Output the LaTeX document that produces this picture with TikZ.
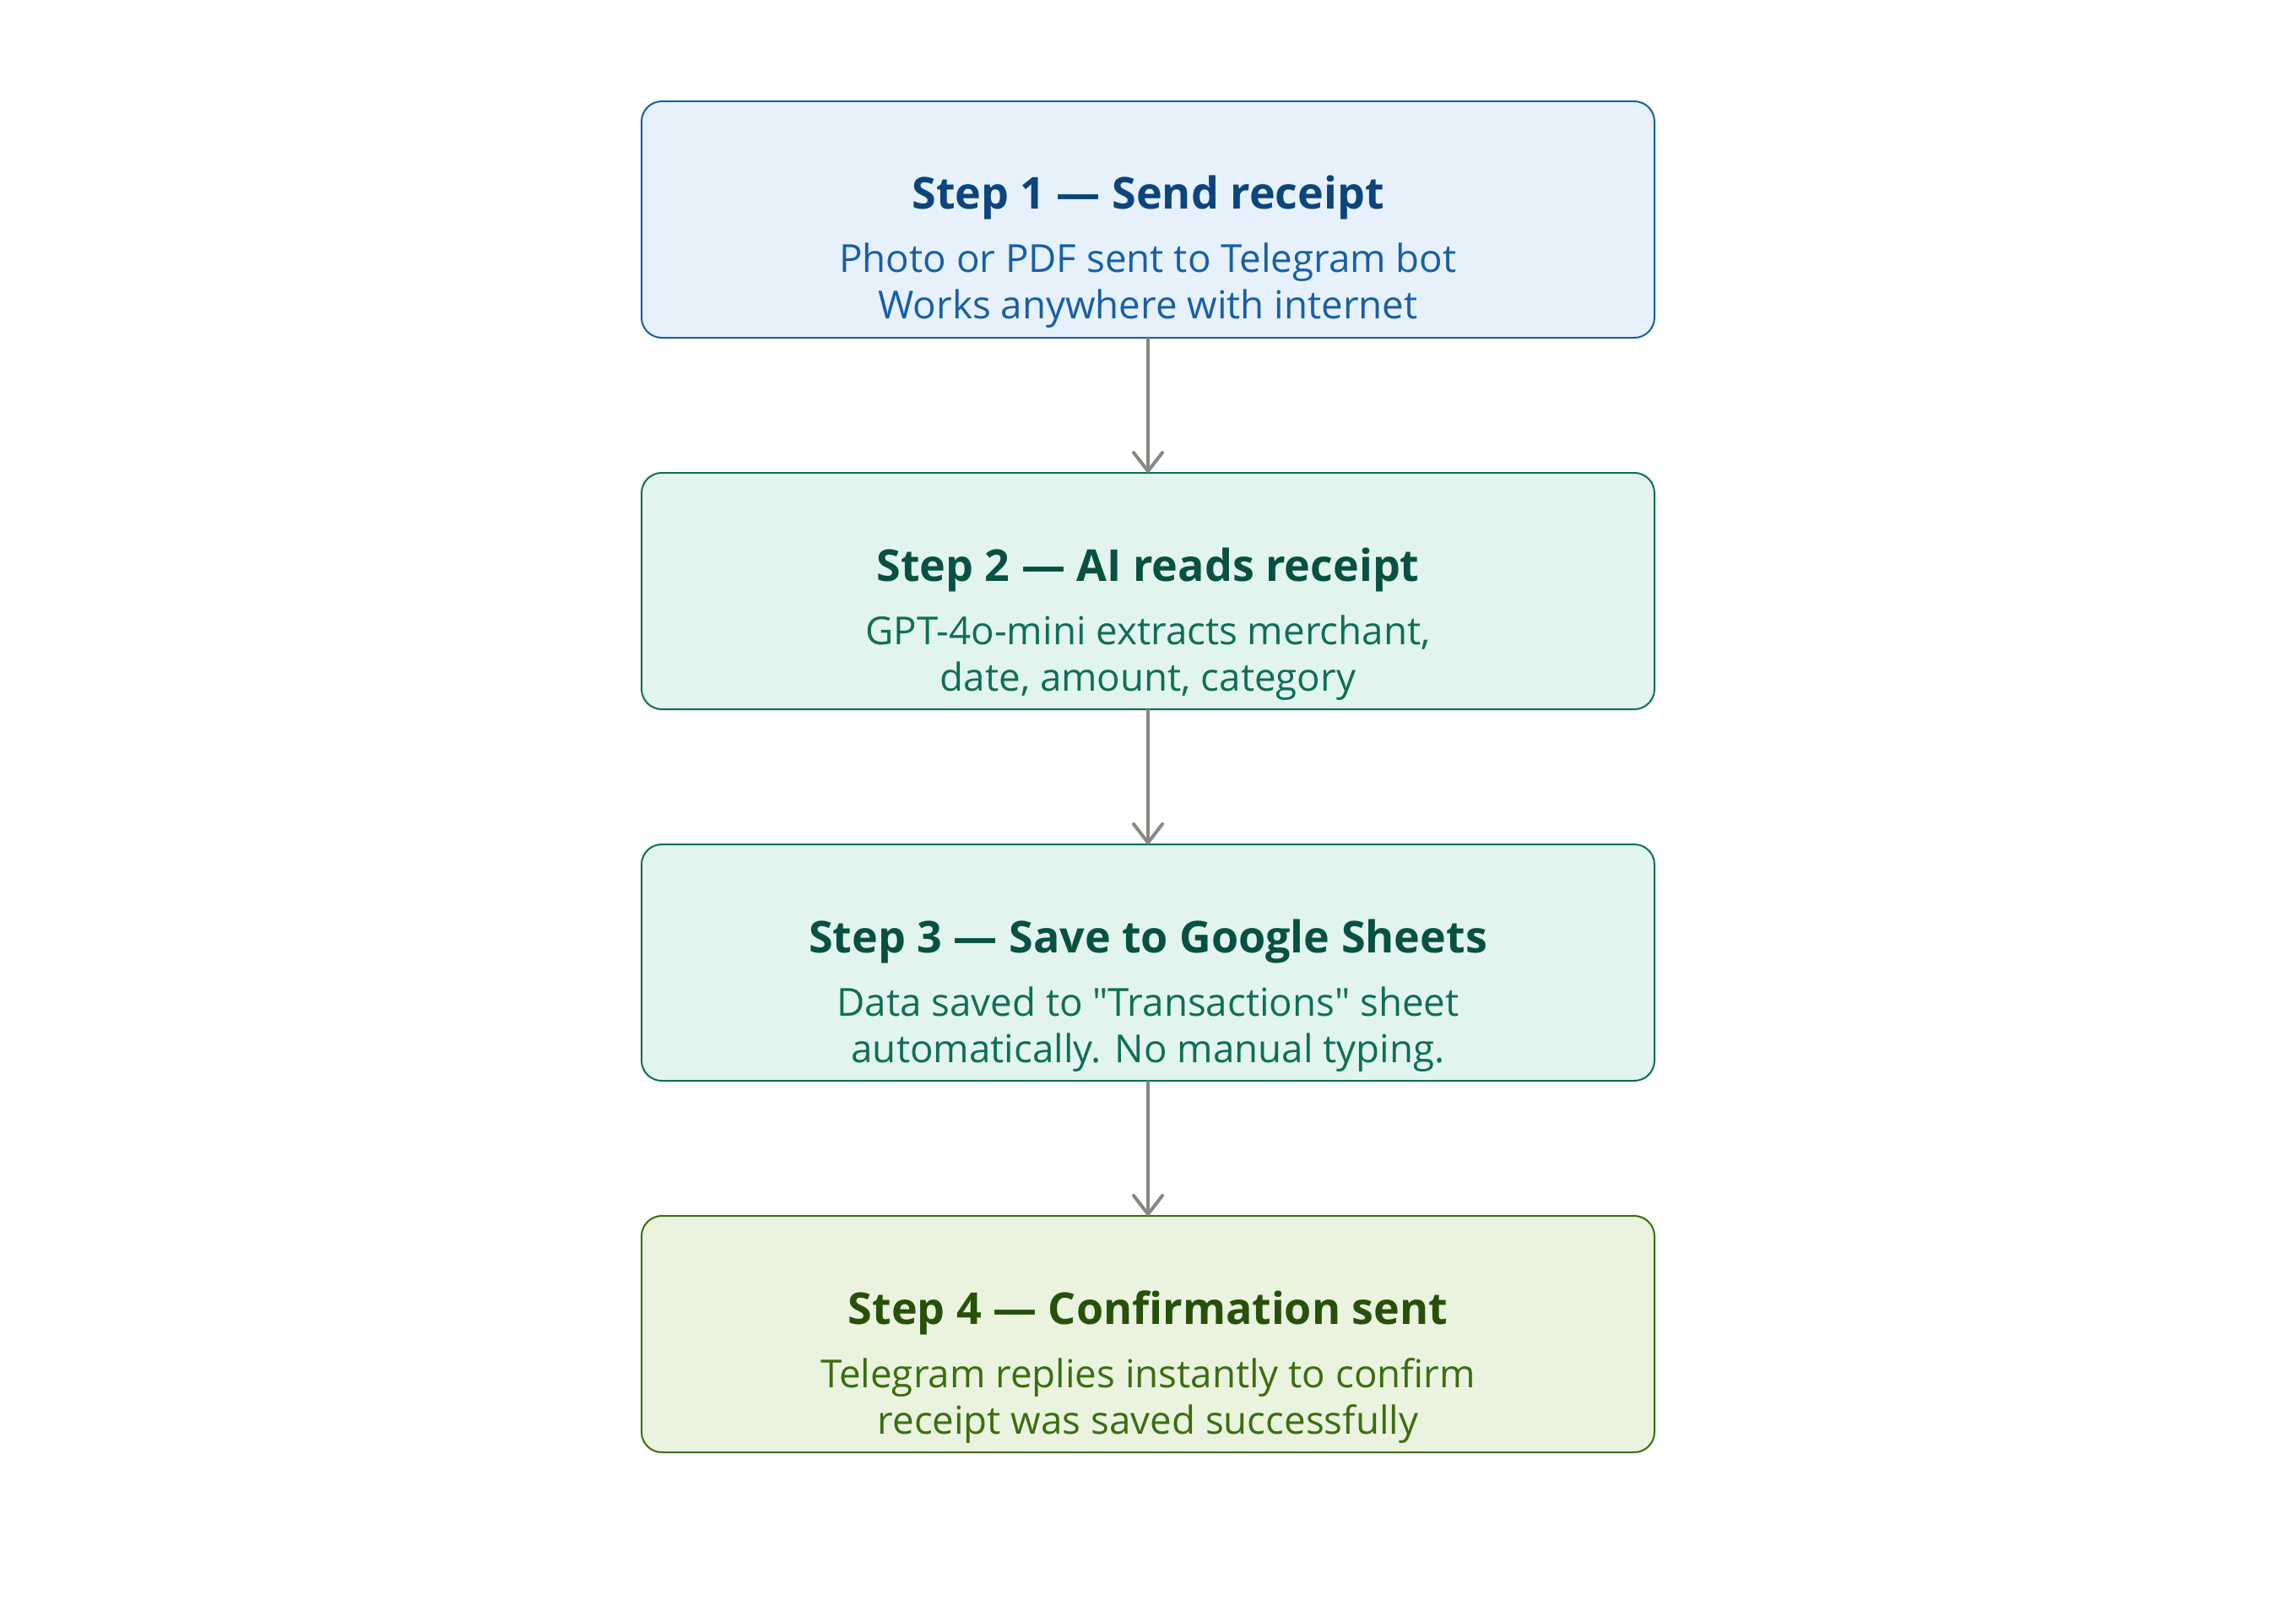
\documentclass[tikz,border=0pt]{standalone}
\usepackage{fontspec}
\setmainfont{Open Sans}
\usetikzlibrary{positioning,arrows.meta}

\definecolor{blueFill}{HTML}{E6F1FB}
\definecolor{blueLine}{HTML}{185FA5}
\definecolor{blueTitle}{HTML}{0C447C}
\definecolor{tealFill}{HTML}{E1F5EE}
\definecolor{tealLine}{HTML}{0F6E56}
\definecolor{tealTitle}{HTML}{085041}
\definecolor{greenFill}{HTML}{EAF3DE}
\definecolor{greenLine}{HTML}{3B6D11}
\definecolor{greenTitle}{HTML}{27500A}
\definecolor{arrowGray}{HTML}{888780}

\tikzset{
    stepbox/.style={draw, rounded corners=0.24cm, line width=0.02cm,
        minimum width=12cm, minimum height=2.8cm, inner sep=0pt, outer sep=0pt},
    steptitle/.style={anchor=base, font=\bfseries\fontsize{14.8}{18}\selectfont},
    stepnote/.style={anchor=base, font=\fontsize{13}{16}\selectfont},
    flow/.style={draw=arrowGray, line width=0.04cm,
        -{Straight Barb[length=0.22cm, width=0.34cm, round]}}
}

\begin{document}
\begin{tikzpicture}
    % Fix the page size
    \useasboundingbox (0,0) rectangle (27.2,-19.2);

    % Draw the four step boxes
    \node[stepbox, draw=blueLine, fill=blueFill] (s1) at (13.6,-2.6) {};
    \node[stepbox, draw=tealLine, fill=tealFill, below=1.6cm of s1] (s2) {};
    \node[stepbox, draw=tealLine, fill=tealFill, below=1.6cm of s2] (s3) {};
    \node[stepbox, draw=greenLine, fill=greenFill, below=1.6cm of s3] (s4) {};

    % Titles and notes inside each box
    \node[steptitle, text=blueTitle] (t1) at ([yshift=-1.28cm]s1.north) {Step 1 — Send receipt};
    \node[stepnote, text=blueLine] (n1a) at ([yshift=-2.03cm]s1.north) {Photo or PDF sent to Telegram bot};
    \node[stepnote, text=blueLine] (n1b) at ([yshift=-2.58cm]s1.north) {Works anywhere with internet};

    \node[steptitle, text=tealTitle] (t2) at ([yshift=-1.28cm]s2.north) {Step 2 — AI reads receipt};
    \node[stepnote, text=tealLine] (n2a) at ([yshift=-2.03cm]s2.north) {GPT-4o-mini extracts merchant,};
    \node[stepnote, text=tealLine] (n2b) at ([yshift=-2.58cm]s2.north) {date, amount, category};

    \node[steptitle, text=tealTitle] (t3) at ([yshift=-1.28cm]s3.north) {Step 3 — Save to Google Sheets};
    \node[stepnote, text=tealLine] (n3a) at ([yshift=-2.03cm]s3.north) {Data saved to \textquotedbl Transactions\textquotedbl{} sheet};
    \node[stepnote, text=tealLine] (n3b) at ([yshift=-2.58cm]s3.north) {automatically. No manual typing.};

    \node[steptitle, text=greenTitle] (t4) at ([yshift=-1.28cm]s4.north) {Step 4 — Confirmation sent};
    \node[stepnote, text=greenLine] (n4a) at ([yshift=-2.03cm]s4.north) {Telegram replies instantly to confirm};
    \node[stepnote, text=greenLine] (n4b) at ([yshift=-2.58cm]s4.north) {receipt was saved successfully};

    % Draw the arrows between the steps
    \foreach \a/\b in {s1/s2, s2/s3, s3/s4} {
        \draw[flow] (\a) -- (\b);
    }
\end{tikzpicture}
\end{document}
